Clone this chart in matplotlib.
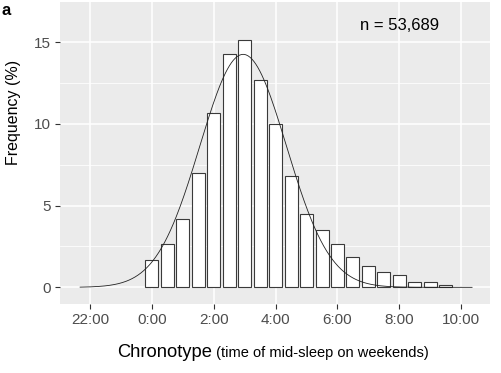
import matplotlib
matplotlib.use("Agg")
import matplotlib.pyplot as plt
import numpy as np

plt.rcParams.update({
    "font.family": ["Liberation Sans", "DejaVu Sans"],
})

# ── data: 30-min bins of mid-sleep time (hours, 24 = 0:00) ────────────────
bin_centers = [24.0, 24.5, 25.0, 25.5, 26.0, 26.5, 27.0, 27.5, 28.0, 28.5,
               29.0, 29.5, 30.0, 30.5, 31.0, 31.5, 32.0, 32.5, 33.0, 33.5]
freq_pct = [1.67, 2.64, 4.19, 6.99, 10.67, 14.25, 15.1, 12.66, 9.96, 6.83,
            4.48, 3.51, 2.64, 1.86, 1.29, 0.94, 0.75, 0.33, 0.31, 0.16]
bin_width = 0.5

# fitted normal curve (mean / sd in hours) and its x-range
fit_mean = 26.95
fit_sd = 1.40
fit_range = (21.68, 34.35)

tick_pos = [22, 24, 26, 28, 30, 32, 34]
tick_labels = ["22:00", "0:00", "2:00", "4:00", "6:00", "8:00", "10:00"]
n_label = "n = 53,689"

# ── figure ────────────────────────────────────────────────────────────────
W, H = 502, 373
fig = plt.figure(figsize=(W / 100, H / 100), dpi=100)
ax = fig.add_axes([60 / W, 1 - 304 / H, 430 / W, 302 / H])

ax.set_facecolor("#EBEBEB")
for s in ax.spines.values():
    s.set_visible(False)

ax.set_xlim(21.03, 34.93)
ax.set_ylim(-1.02, 17.45)

ax.set_xticks(tick_pos)
ax.set_xticklabels(tick_labels)
ax.set_yticks([0, 5, 10, 15])
ax.set_yticks([2.5, 7.5, 12.5], minor=True)
ax.grid(which="major", color="white", linewidth=1.1, zorder=0)
ax.grid(which="minor", axis="y", color="white", linewidth=0.55, zorder=0)
ax.set_axisbelow(True)
ax.tick_params(axis="both", which="major", length=3.5, width=0.8,
               color="#333333", labelcolor="#4D4D4D", labelsize=11, pad=3)
ax.tick_params(axis="both", which="minor", length=0)

ax.bar(bin_centers, freq_pct, width=bin_width * 0.84, color="white",
       edgecolor="#3A3A3A", linewidth=0.8, zorder=2)

xs = np.linspace(fit_range[0], fit_range[1], 400)
ys = 100 * bin_width / (fit_sd * np.sqrt(2 * np.pi)) * \
    np.exp(-0.5 * ((xs - fit_mean) / fit_sd) ** 2)
ax.plot(xs, ys, color="#222222", linewidth=0.6, zorder=3)

ax.text(32, 16, n_label, ha="center", va="center", fontsize=12, color="black")

# y label
fig.text(14 / W, 1 - 112 / H, "Frequency (%)", rotation=90, ha="center",
         va="center", fontsize=11.5, color="black")

# x label: big part + small part, centered under panel
fig.canvas.draw()
r = fig.canvas.get_renderer()
t1 = fig.text(0, 0, "Chronotype", fontsize=13.2, color="black")
t2 = fig.text(0, 0, " (time of mid-sleep on weekends)", fontsize=10.5,
              color="black")
w1 = t1.get_window_extent(r).width
w2 = t2.get_window_extent(r).width
cx = 273
x0 = cx - (w1 + w2) / 2
yb = 1 - 357 / H
t1.set_position((x0 / W, yb))
t2.set_position(((x0 + w1) / W, yb))

fig.text(2 / W, 1 - 15 / H, "a", fontsize=12, fontweight="bold",
         color="black", ha="left", va="baseline")

fig.savefig("out.png", dpi=100)
